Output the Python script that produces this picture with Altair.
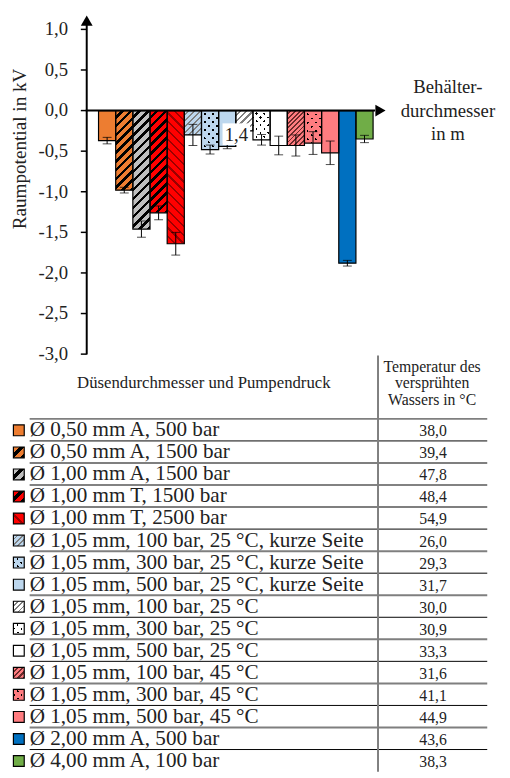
import altair as alt
import pandas as pd

# ---------------- data ----------------
labels = [
    "Ø 0,50 mm A, 500 bar",
    "Ø 0,50 mm A, 1500 bar",
    "Ø 1,00 mm A, 1500 bar",
    "Ø 1,00 mm T, 1500 bar",
    "Ø 1,00 mm T, 2500 bar",
    "Ø 1,05 mm, 100 bar, 25 °C, kurze Seite",
    "Ø 1,05 mm, 300 bar, 25 °C, kurze Seite",
    "Ø 1,05 mm, 500 bar, 25 °C, kurze Seite",
    "Ø 1,05 mm, 100 bar, 25 °C",
    "Ø 1,05 mm, 300 bar, 25 °C",
    "Ø 1,05 mm, 500 bar, 25 °C",
    "Ø 1,05 mm, 100 bar, 45 °C",
    "Ø 1,05 mm, 300 bar, 45 °C",
    "Ø 1,05 mm, 500 bar, 45 °C",
    "Ø 2,00 mm A, 500 bar",
    "Ø 4,00 mm A, 100 bar",
]
values = [-0.37, -0.98, -1.46, -1.26, -1.64, -0.30, -0.48, -0.44,
          -0.25, -0.36, -0.43, -0.43, -0.40, -0.52, -1.88, -0.35]
errors = [0.04, 0.035, 0.10, 0.085, 0.14, 0.13, 0.055, 0.03,
          0.05, 0.065, 0.115, 0.13, 0.14, 0.145, 0.035, 0.045]
temperatures = ["38,0", "39,4", "47,8", "48,4", "54,9", "26,0", "29,3", "31,7",
                "30,0", "30,9", "33,3", "31,6", "41,1", "44,9", "43,6", "38,3"]
y_ticks = [1.0, 0.5, 0.0, -0.5, -1.0, -1.5, -2.0, -2.5, -3.0]
y_tick_labels = ["1,0", "0,5", "0,0", "-0,5", "-1,0", "-1,5", "-2,0", "-2,5", "-3,0"]
y_title = "Raumpotential in kV"
x_title = ["Behälter-", "durchmesser", "in m"]
x_tick_label = "1,4"
header_left = "Düsendurchmesser und Pumpendruck"
header_right = ["Temperatur des", "versprühten", "Wassers in °C"]

# ---------------- styles ----------------
colors = ["#ED7D31", "#ED7D31", "#BFBFBF", "#FF0000", "#FF0000",
          "#BDD7EE", "#BDD7EE", "#BDD7EE", "#FFFFFF", "#FFFFFF", "#FFFFFF",
          "#FF7C80", "#FF7C80", "#FF7C80", "#0070C0", "#70AD47"]
patterns = [
    None,
    ("hatch", "#000000", 9, 0.4, "/"),
    ("hatch", "#000000", 9, 0.4, "/"),
    ("hatch", "#000000", 9, 0.4, "/"),
    ("hatch", "#9B0000", 9, 0.25, "\\"),
    ("hatch", "#7F7F7F", 6, 0.35, "/"),
    ("dots", "#000000", 8, 0.3, None),
    None,
    ("hatch", "#7F7F7F", 6, 0.35, "/"),
    ("dots", "#000000", 8, 0.3, None),
    None,
    ("hatch", "#6B2B2B", 5, 0.4, "/"),
    ("dots", "#000000", 8, 0.3, None),
    None, None, None,
]
FONT = "Liberation Serif, Times New Roman, serif"
W, H = 502, 770
X_DOMAIN, X_RANGE = [0, 16], [92, 371]
Y_DOMAIN, Y_RANGE = [-3, 1], [345.5, 15.5]
ROW_DOMAIN, ROW_RANGE = [0, 15], [429, 765]
PX_PER_UNIT = (Y_RANGE[0] - Y_RANGE[1]) / (Y_DOMAIN[1] - Y_DOMAIN[0])
BAR_W = (X_RANGE[1] - X_RANGE[0]) / (X_DOMAIN[1] - X_DOMAIN[0])
SW = 11
TRANSPARENT = "rgba(0,0,0,0)"


def stripes(w, h, period, frac, ink, base, direction):
    k = (w + h) / (w * w + h * h)
    n = max(1, round((w + h) / period))
    stops = []
    for i in range(n):
        a, b, c = i / n, (i + 1 - frac) / n, (i + 1) / n
        stops += [(a, base), (b, base), (b, ink), (c, ink)]
    if direction == "/":
        x1, y1, x2, y2 = 0, 0, w * k, h * k
    else:
        x1, y1, x2, y2 = 0, 1, w * k, 1 - h * k
    return {"gradient": "linear", "x1": x1, "y1": y1, "x2": x2, "y2": y2,
            "stops": [{"offset": round(min(max(o, 0), 1), 5), "color": col}
                      for o, col in stops]}


def fills_for(i, w, h):
    base, spec = colors[i], patterns[i]
    if spec is None:
        return [base]
    kind, ink, period, frac, direction = spec
    if kind == "hatch":
        return [stripes(w, h, period, frac, ink, base, direction)]
    return [stripes(w, h, period, frac, ink, base, "/"),
            stripes(w, h, period, frac, TRANSPARENT, base, "\\")]


def X(field):
    return alt.X(f"{field}:Q", scale=alt.Scale(domain=X_DOMAIN, range=X_RANGE, nice=False, zero=False), axis=None)


def Y(field):
    return alt.Y(f"{field}:Q", scale=alt.Scale(domain=Y_DOMAIN, range=Y_RANGE, nice=False, zero=False), axis=None)


def R(field):
    return alt.Y(f"{field}:Q", scale=alt.Scale(domain=ROW_DOMAIN, range=ROW_RANGE, nice=False, zero=False), axis=None)


df = pd.DataFrame({
    "idx": list(range(16)),
    "value": values,
    "err": errors,
    "label": labels,
    "temp": temperatures,
})
base = alt.Chart(df).transform_calculate(
    x0="datum.idx", x1="datum.idx + 1", xc="datum.idx + 0.5",
    lo="datum.value - datum.err", hi="datum.value + datum.err", zero="0",
    sw="datum.idx - 0.27",
)

layers = []
# bars (pattern layers)
for i in range(16):
    h = abs(values[i]) * PX_PER_UNIT
    for f in fills_for(i, BAR_W, h):
        layers.append(base.transform_filter(alt.datum.idx == i).mark_bar(fill=f, strokeWidth=0).encode(
            x=X("x0"), x2="x1:Q", y=Y("value"), y2="zero:Q"))
# bar outlines
layers.append(base.mark_bar(fillOpacity=0, stroke="black", strokeWidth=1.2).encode(
    x=X("x0"), x2="x1:Q", y=Y("value"), y2="zero:Q"))
# error bars
layers.append(base.mark_rule(color="black", strokeWidth=1).encode(x=X("xc"), y=Y("lo"), y2="hi:Q"))
for f in ["lo", "hi"]:
    layers.append(base.mark_tick(orient="horizontal", size=9, thickness=1, color="black").encode(
        x=X("xc"), y=Y(f)))

# x-axis tick label "1,4" with white box
lab = alt.Chart(pd.DataFrame({"t": [x_tick_label]}))
layers.append(lab.mark_rect(color="white").encode(
    x=alt.value(218), x2=alt.value(246), y=alt.value(111), y2=alt.value(133)))
layers.append(lab.mark_text(font=FONT, fontSize=19, color="#222").encode(
    x=alt.value(232), y=alt.value(123), text="t:N"))

# axes
ax = alt.Chart(pd.DataFrame({"tick": y_ticks, "lab": y_tick_labels}))
layers.append(ax.mark_rule(color="black", strokeWidth=1.5).encode(x=alt.value(74), x2=alt.value(80), y=Y("tick")))
layers.append(ax.mark_text(font=FONT, fontSize=19, align="right", baseline="middle", color="#222").encode(
    x=alt.value(61), y=Y("tick"), text="lab:N"))
one = alt.Chart(pd.DataFrame({"a": [0]}))
layers.append(one.mark_rule(color="black", strokeWidth=2).encode(x=alt.value(80), y=alt.value(8), y2=alt.value(346)))
layers.append(one.mark_rule(color="black", strokeWidth=2).encode(x=alt.value(79), x2=alt.value(373), y=Y("a")))
layers.append(one.mark_point(shape="triangle-up", filled=True, size=144, color="black", opacity=1).encode(
    x=alt.value(80), y=alt.value(6.5)))
layers.append(one.mark_point(shape="triangle-right", filled=True, size=144, color="black", opacity=1).encode(
    x=alt.value(378.5), y=Y("a")))

# titles
layers.append(alt.Chart(pd.DataFrame({"t": [y_title]})).mark_text(
    font=FONT, fontSize=19.5, angle=270, color="#222").encode(x=alt.value(12), y=alt.value(137), text="t:N"))
for t, yy in zip(x_title, [73.7, 98.7, 122]):
    layers.append(alt.Chart(pd.DataFrame({"t": [t]})).mark_text(
        font=FONT, fontSize=19, color="#222").encode(x=alt.value(447), y=alt.value(yy), text="t:N"))

# table headers
layers.append(alt.Chart(pd.DataFrame({"t": [header_left]})).mark_text(
    font=FONT, fontSize=17, color="#222").encode(x=alt.value(199), y=alt.value(375), text="t:N"))
for t, yy in zip(header_right, [358.7, 375, 392]):
    layers.append(alt.Chart(pd.DataFrame({"t": [t]})).mark_text(
        font=FONT, fontSize=16, color="#222").encode(x=alt.value(431), y=alt.value(yy), text="t:N"))

# table lines
lines = alt.Chart(pd.DataFrame({"k": list(range(16))})).transform_calculate(
    pos="datum.k - 0.79", col="datum.k % 2 == 1 ? '#000000' : '#7F7F7F'",
    w="datum.k % 2 == 1 ? 1 : 2")
layers.append(lines.mark_rule().encode(
    x=alt.value(22), x2=alt.value(487), y=R("pos"),
    color=alt.Color("col:N", scale=None), strokeWidth=alt.StrokeWidth("w:Q", scale=None)))
layers.append(one.mark_rule(color="#7F7F7F", strokeWidth=2).encode(
    x=alt.value(376), y=alt.value(347), y2=alt.value(770)))

# swatches
for i in range(16):
    for f in fills_for(i, SW, SW):
        layers.append(base.transform_filter(alt.datum.idx == i).mark_square(
            size=SW * SW, fill=f, strokeWidth=0, opacity=1).encode(x=alt.value(11), y=R("sw")))
layers.append(base.mark_square(size=SW * SW, fillOpacity=0, stroke="black", strokeWidth=1.2, opacity=1).encode(
    x=alt.value(11), y=R("sw")))

# table text
layers.append(base.mark_text(font=FONT, fontSize=21.5, align="left", baseline="alphabetic", color="#222").encode(
    x=alt.value(22), y=R("idx"), text="label:N"))
layers.append(base.mark_text(font=FONT, fontSize=16, align="center", baseline="alphabetic", color="#222").encode(
    x=alt.value(432), y=R("idx"), text="temp:N"))

chart = alt.layer(*layers).resolve_scale(x="independent", y="independent").properties(
    width=W, height=H, autosize=alt.AutoSizeParams(type="none"), padding=0, background="white"
).configure_view(stroke=None)

chart.save("out.html", embed_options={"renderer": "svg", "actions": False})
